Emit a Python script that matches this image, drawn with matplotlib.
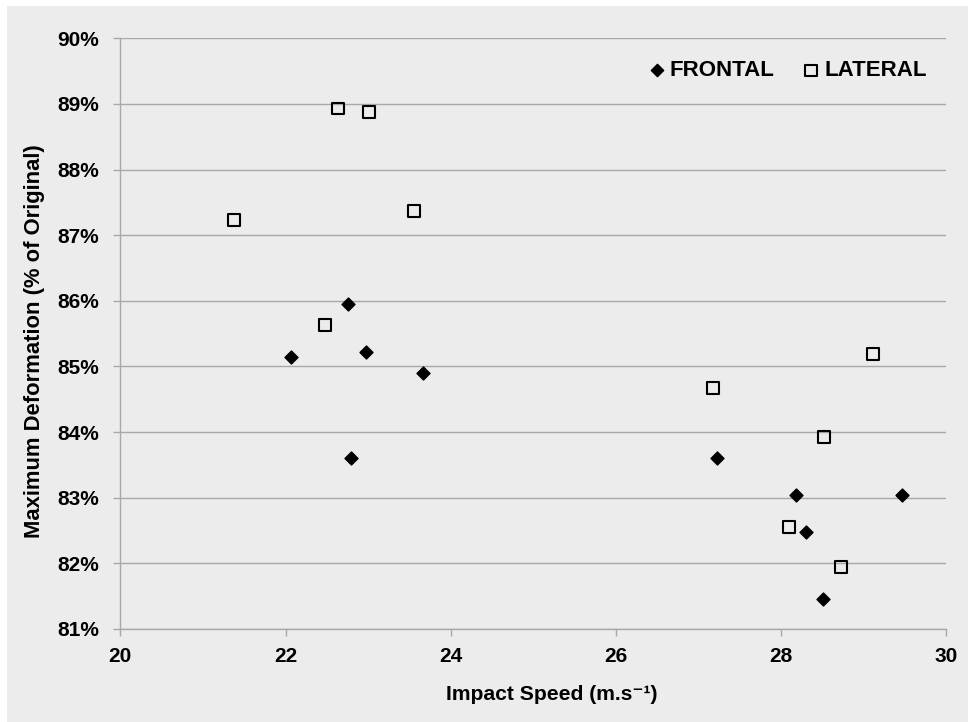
import matplotlib
matplotlib.use("Agg")
import matplotlib.pyplot as plt
from matplotlib.patches import Rectangle
from matplotlib.ticker import FuncFormatter, MultipleLocator

plt.rcParams['font.family'] = ['Liberation Sans', 'DejaVu Sans']
plt.rcParams['font.weight'] = 'bold'

# data (speed in m/s, deformation in %)
frontal_speed = [22.07, 22.76, 22.97, 23.66, 22.79, 27.23, 28.18, 29.46, 28.30, 28.51]
frontal_deform = [85.14, 85.95, 85.22, 84.90, 83.61, 83.61, 83.04, 83.04, 82.48, 81.45]

lateral_speed = [21.38, 22.63, 23.01, 23.55, 22.48, 27.18, 28.52, 28.10, 28.73, 29.11]
lateral_deform = [87.23, 88.93, 88.88, 87.37, 85.63, 84.67, 83.93, 82.55, 81.95, 85.19]

x_ticks = [20, 22, 24, 26, 28, 30]

bg = '#ececec'
grid_col = '#a8a8a8'

fig = plt.figure(figsize=(9.68, 7.22), dpi=100)
fig.patch.set_facecolor('white')
fig.patches.append(Rectangle((7 / 968, 0), 1, 1 - 6 / 722, transform=fig.transFigure,
                             facecolor=bg, edgecolor='none', zorder=-10))

ax = fig.add_axes([120.3 / 968, 1 - 629 / 722, (946.3 - 120.3) / 968, (629 - 38.3) / 722])
ax.set_facecolor(bg)

ax.scatter(frontal_speed, frontal_deform, marker='D', s=6.6**2, color='black',
           label='FRONTAL', zorder=3)
ax.scatter(lateral_speed, lateral_deform, marker='s', s=8.6**2, facecolor='none',
           edgecolor='black', linewidths=1.5, label='LATERAL', zorder=3)

ax.set_xlim(20, 30)
ax.set_ylim(81, 90)
ax.set_xticks(x_ticks)
ax.yaxis.set_major_locator(MultipleLocator(1))
ax.yaxis.set_major_formatter(FuncFormatter(lambda v, p: f"{v:.0f}%"))

ax.grid(axis='y', color=grid_col, linewidth=1.0)
ax.set_axisbelow(True)
for s in ['top', 'right']:
    ax.spines[s].set_visible(False)
for s in ['left', 'bottom']:
    ax.spines[s].set_color(grid_col)
    ax.spines[s].set_linewidth(1.0)

ax.tick_params(axis='both', colors=grid_col, length=5, width=1.0, labelcolor='black',
               labelsize=15)
ax.tick_params(axis='y', pad=10)
ax.tick_params(axis='x', pad=8)

ax.set_xlabel('Impact Speed (m.s\u207b\u00b9)', fontsize=15.2, fontweight='bold')
ax.set_ylabel('Maximum Deformation (% of Original)', fontsize=15.8, fontweight='bold')
# label centres (pixels -> axes fraction)
ax.xaxis.set_label_coords((552 - 120.3) / 826, -(695 - 629) / 590.7)
ax.yaxis.set_label_coords(-(120.3 - 35) / 826, (629 - 341) / 590.7)
ax.xaxis.label.set_va('center')
ax.yaxis.label.set_va('center')

leg = ax.legend(loc='center right', bbox_to_anchor=(0.990, 0.945), ncol=2, frameon=False,
                fontsize=16, handlelength=0.6, handletextpad=0.3, columnspacing=1.33,
                borderpad=0, markerscale=0.95)

fig.savefig('out.png', dpi=100)
